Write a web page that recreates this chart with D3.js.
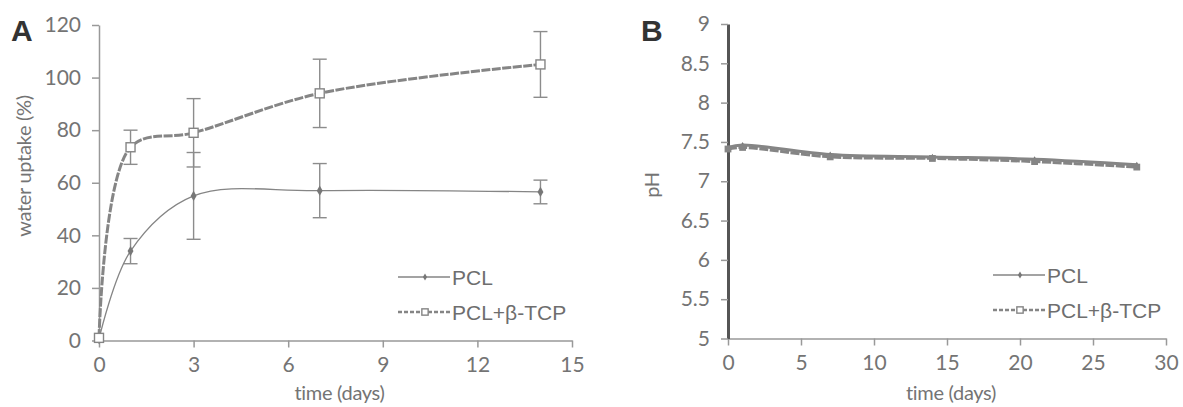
<!DOCTYPE html>
<html lang="en">
<head>
<meta charset="UTF-8">
<title>water uptake and pH</title>
<style>
  body { margin: 0; background: #fff; }
  .tick text { font-family: Lato, sans-serif; font-size: 21px; fill: #747474; }
  .tick line, .domain { stroke: #999; stroke-width: 1.5px; }
  .axis-title { font-family: Lato, sans-serif; font-size: 20px; fill: #747474; letter-spacing: -0.3px; }
  .legend text { font-family: "Liberation Sans", Arial, sans-serif; font-size: 21px; fill: #6e6e6e; }
  .panel-label { font-family: "Liberation Sans", Arial, sans-serif; font-weight: bold; font-size: 30px; fill: #333; }
</style>
</head>
<body>
<div id="chart"></div>
<script src="https://d3js.org/d3.v7.min.js"></script>
<script>
// panel A: water uptake (%)
var daysA = [0, 1, 3, 7, 14];
var pclUptake = [0.5, 34, 55, 57, 56.5];
var pclUptakeErr = [0, 4.8, 16.5, 10.3, 4.5];
var tcpUptake = [1, 73.5, 79, 94, 105];
var tcpUptakeErr = [0, 6.5, 13, 13, 12.5];
var ticksAx = [0, 3, 6, 9, 12, 15];
var ticksAy = [0, 20, 40, 60, 80, 100, 120];

// panel B: pH
var daysB = [0, 1, 7, 14, 21, 28];
var pclPH = [7.43, 7.46, 7.34, 7.31, 7.28, 7.21];
var tcpPH = [7.41, 7.43, 7.31, 7.29, 7.25, 7.18];
var ticksBx = [0, 5, 10, 15, 20, 25, 30];
var ticksBy = [5, 5.5, 6, 6.5, 7, 7.5, 8, 8.5, 9];

var legendNames = ["PCL", "PCL+\u03b2-TCP"];

var W = 1183, H = 407;
var grey = "#858585";

var svg = d3.select("#chart").append("svg")
    .attr("width", W).attr("height", H);

function panel(opt) {
  var x = d3.scaleLinear().domain(opt.xd).range(opt.xr);
  var y = d3.scaleLinear().domain(opt.yd).range(opt.yr);

  var g = svg.append("g");

  // axes
  g.append("g")
      .attr("transform", "translate(0," + opt.yr[0] + ")")
      .call(d3.axisBottom(x).tickValues(opt.xt).tickSize(7).tickSizeOuter(0).tickPadding(10)
        .tickFormat(d3.format("~g")));
  var yAxis = g.append("g")
      .attr("transform", "translate(" + opt.xr[0] + ",0)")
      .call(d3.axisLeft(y).tickValues(opt.yt).tickSize(7).tickSizeOuter(0).tickPadding(11)
        .tickFormat(d3.format("~g")));
  if (opt.darkY) yAxis.select(".domain").style("stroke", "#555").style("stroke-width", "3px");

  var line = d3.line()
      .x(function(d) { return x(d[0]); })
      .y(function(d) { return y(d[1]); })
      .curve(d3.curveCatmullRom.alpha(0.5));

  opt.series.forEach(function(s) {
    var pts = opt.days.map(function(t, i) { return [t, s.v[i], s.e ? s.e[i] : 0]; });

    // error bars
    if (s.e) {
      var eb = g.append("g").attr("stroke", "#8c8c8c").attr("stroke-width", 1.4);
      pts.filter(function(d) { return d[2] > 0; }).forEach(function(d) {
        var cx = x(d[0]);
        eb.append("line").attr("x1", cx).attr("x2", cx).attr("y1", y(d[1] - d[2])).attr("y2", y(d[1] + d[2]));
        eb.append("line").attr("x1", cx - 7).attr("x2", cx + 7).attr("y1", y(d[1] - d[2])).attr("y2", y(d[1] - d[2]));
        eb.append("line").attr("x1", cx - 7).attr("x2", cx + 7).attr("y1", y(d[1] + d[2])).attr("y2", y(d[1] + d[2]));
      });
    }

    g.append("path")
        .attr("d", line(pts))
        .attr("fill", "none")
        .attr("stroke", grey)
        .attr("stroke-width", s.w)
        .attr("stroke-dasharray", s.dash || null);

    drawMarkers(g, pts.map(function(d) { return [x(d[0]), y(d[1])]; }), s.marker, opt.markSize);
  });

  // axis titles
  g.append("text").attr("class", "axis-title")
      .attr("x", (opt.xr[0] + opt.xr[1]) / 2 + 4).attr("y", 400)
      .attr("text-anchor", "middle").text("time (days)");
  g.append("text").attr("class", "axis-title")
      .attr("transform", "translate(" + opt.ytx + "," + opt.yty + ") rotate(-90)")
      .attr("text-anchor", "middle").attr("dy", "0.35em").text(opt.ytitle);

  g.append("text").attr("class", "panel-label")
      .attr("x", opt.lab[0]).attr("y", opt.lab[1]).text(opt.label);

  // legend
  var lg = g.append("g").attr("class", "legend");
  opt.series.forEach(function(s, i) {
    var ly = opt.leg[1] + i * 35;
    lg.append("line")
        .attr("x1", opt.leg[0]).attr("x2", opt.leg[0] + 52)
        .attr("y1", ly).attr("y2", ly)
        .attr("stroke", grey).attr("stroke-width", i === 0 ? 1.5 : 2.5)
        .attr("stroke-dasharray", i === 0 ? null : "4,2");
    drawMarkers(lg, [[opt.leg[0] + 27, ly]], s.marker, 0.7);
    lg.append("text").attr("x", opt.leg[0] + 54).attr("y", ly).attr("dy", "0.36em")
        .text(legendNames[i]);
  });
}

function drawMarkers(g, xy, kind, k) {
  xy.forEach(function(p) {
    if (kind === "square") {
      var s = 9 * k;
      g.append("rect").attr("x", p[0] - s / 2).attr("y", p[1] - s / 2)
          .attr("width", s).attr("height", s)
          .attr("fill", k < 0.7 ? grey : "#fff").attr("stroke", grey).attr("stroke-width", 1.4);
    } else {
      g.append("path").attr("d", d3.symbol(d3.symbolDiamond, 30 * k * k)())
          .attr("transform", "translate(" + p[0] + "," + p[1] + ")")
          .attr("fill", "#777");
    }
  });
}

panel({
  xd: [0, 15], xr: [99, 572], yd: [0, 120], yr: [340.5, 25],
  xt: ticksAx, yt: ticksAy, days: daysA, markSize: 1,
  series: [
    { v: pclUptake, e: pclUptakeErr, w: 1.3, marker: "diamond" },
    { v: tcpUptake, e: tcpUptakeErr, w: 3, dash: "9,1.5", marker: "square" }
  ],
  ytitle: "water uptake (%)", ytx: 24, yty: 166,
  label: "A", lab: [11, 41],
  leg: [398, 277]
});

panel({
  xd: [0, 30], xr: [728, 1166], yd: [5, 9], yr: [338.5, 24],
  xt: ticksBx, yt: ticksBy, days: daysB, darkY: true, markSize: 0.6,
  series: [
    { v: pclPH, w: 3, marker: "diamond" },
    { v: tcpPH, w: 3, dash: "9,1.5", marker: "square" }
  ],
  ytitle: "pH", ytx: 652, yty: 185,
  label: "B", lab: [641, 41],
  leg: [993, 275]
});
</script>
</body>
</html>
